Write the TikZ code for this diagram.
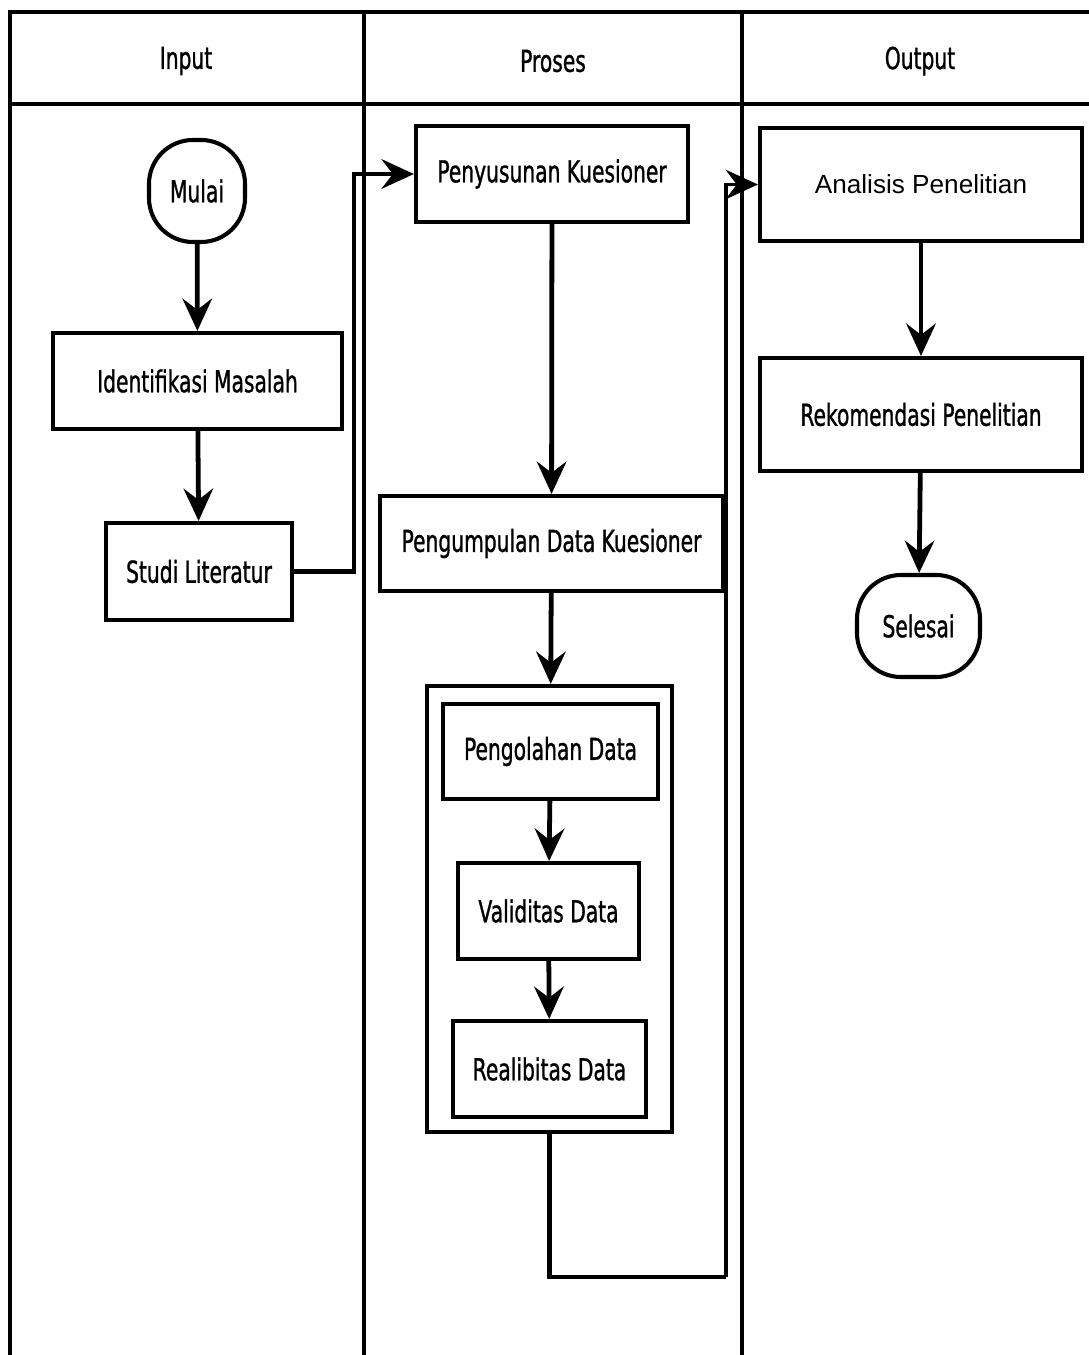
\documentclass[tikz,border=0pt]{standalone}
\usepackage{fontspec}
\setmainfont[FakeStretch=0.67,FakeBold=1]{DejaVu Sans}
\newfontfamily\arialfont{Liberation Sans}
\usetikzlibrary{arrows.meta}
\tikzset{
  garis/.style={line width=2.2pt},
  kotak/.style={draw, line width=2.9pt, inner sep=0pt, font=\fontsize{21.5}{25}\selectfont},
  terminal/.style={kotak, rounded corners=1.1cm},
  panah/.style={line width=3.4pt, -{Stealth[length=23pt,width=21pt,inset=8pt]}}
}

\begin{document}
\begin{tikzpicture}[x=0.025cm, y=0.025cm]
\useasboundingbox (0,-1355) rectangle (1089,0);
% swimlane frame
\draw[garis] (10,-1355) -- (10,-12) -- (1089,-12);
\draw[line width=3pt] (10,-104) -- (1089,-104);
\draw[garis] (364,-12) -- (364,-1355);
\draw[garis] (742,-12) -- (742,-1355);
\node[font=\fontsize{21.5}{25}\selectfont] (hinput) at (186,-61) {Input};
\node[font=\fontsize{21.5}{25}\selectfont] (hproses) at (553,-61) {Proses};
\node[font=\fontsize{21.5}{25}\selectfont] (houtput) at (920,-61) {Output};
% input
\node[terminal, minimum width=2.4cm, minimum height=2.55cm] (mulai) at (197,-191) {Mulai};
\node[kotak, minimum width=7.225cm, minimum height=2.4cm] (identifikasi) at (197.5,-381) {Identifikasi Masalah};
\node[kotak, minimum width=4.65cm, minimum height=2.425cm] (studi) at (199,-571.5) {Studi Literatur};
% proses
\node[kotak, minimum width=6.8cm, minimum height=2.4cm] (penyusunan) at (552,-174) {Penyusunan Kuesioner};
\node[kotak, minimum width=8.575cm, minimum height=2.375cm] (pengumpulan) at (551.5,-543.5) {Pengumpulan Data Kuesioner};
\node[kotak, minimum width=6.125cm, minimum height=11.15cm] (wadah) at (549.5,-909) {};
\node[kotak, minimum width=5.375cm, minimum height=2.375cm] (pengolahan) at (550.5,-751.5) {Pengolahan Data};
\node[kotak, minimum width=4.525cm, minimum height=2.4cm] (validitas) at (548.5,-911) {Validitas Data};
\node[kotak, minimum width=4.825cm, minimum height=2.4cm] (realibitas) at (549.5,-1069) {Realibitas Data};
% output
\node[kotak, minimum width=8.05cm, minimum height=2.825cm, font=\arialfont\fontsize{18.6}{22}\selectfont] (analisis) at (921,-184.5) {Analisis Penelitian};
\node[kotak, minimum width=8.05cm, minimum height=2.825cm] (rekomendasi) at (921,-414.5) {Rekomendasi Penelitian};
\node[terminal, minimum width=3.075cm, minimum height=2.55cm] (selesai) at (918.5,-626) {Selesai};
% alur
\draw[panah] (mulai) -- (identifikasi);
\draw[panah] (identifikasi) -- (studi);
\coordinate (naik) at (354,-571.5);
\draw[panah] (studi.east) -- (naik) |- (penyusunan.west);
\draw[panah] (penyusunan) -- (pengumpulan);
\draw[panah] (pengumpulan) -- (wadah);
\draw[panah] (pengolahan) -- (validitas);
\draw[panah] (validitas) -- (realibitas);
\coordinate (belok) at (726,-1277);
\draw[line width=3.4pt] (wadah.south) |- (belok);
\draw[panah, line width=2.8pt] (belok) |- (analisis.west);
\draw[panah] (analisis) -- (rekomendasi);
\draw[panah] (rekomendasi) -- (selesai);
\end{tikzpicture}
\end{document}
